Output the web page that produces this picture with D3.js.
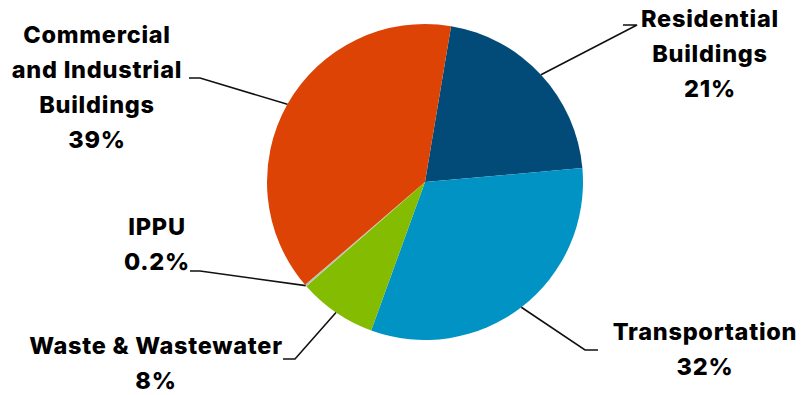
<!DOCTYPE html>
<html><head><meta charset="utf-8">
<script src="https://cdn.jsdelivr.net/npm/d3@7"></script>
<style>body{margin:0;background:#fff}svg{display:block}</style>
</head><body>
<svg id="c" width="801" height="395"></svg>
<script>
const categories = ["Residential Buildings", "Transportation", "Waste & Wastewater", "IPPU", "Commercial and Industrial Buildings"];
const values = [21, 32, 8, 0.2, 39];
const labelLines = [["Residential", "Buildings", "21%"], ["Transportation", "32%"], ["Waste & Wastewater", "8%"], ["IPPU", "0.2%"], ["Commercial", "and Industrial", "Buildings", "39%"]];
const colors = ["#024a78", "#0093c3", "#83bc00", "#b4c8b4", "#dc4305"];

// layout (not data)
const cx = 425, cy = 182, R = 158;
const layout = [
  {tx: 710, ty: 27, elbow: [637, 25], end: [623, 25]},
  {tx: 705, ty: 340, elbow: [585, 350], end: [598, 350]},
  {tx: 156, ty: 354, elbow: [295, 359], end: [283, 359]},
  {tx: 157, ty: 235, elbow: [200, 271], end: [190, 271]},
  {tx: 97, ty: 43, elbow: [200, 78], end: [189, 78]}
];
const lineH = 35;

const svg = d3.select("#c");
const g = svg.append("g").attr("transform", `translate(${cx},${cy})`);
const pie = d3.pie().sort(null).value(d => d).startAngle(9.5 * Math.PI / 180).endAngle(9.5 * Math.PI / 180 + 2 * Math.PI);
const arcs = pie(values);
const arc = d3.arc().innerRadius(0).outerRadius(R);

g.selectAll("path.slice").data(arcs).join("path")
  .attr("class", "slice")
  .attr("d", arc)
  .attr("fill", (d, i) => colors[i]);

// leader lines
arcs.forEach((d, i) => {
  const a = (d.startAngle + d.endAngle) / 2;
  const p0 = [cx + R * Math.sin(a), cy - R * Math.cos(a)];
  const L = layout[i];
  svg.append("polyline")
    .attr("points", [p0, L.elbow, L.end].map(p => p.join(",")).join(" "))
    .attr("fill", "none").attr("stroke", "#111").attr("stroke-width", 1.6);
});

// labels
labelLines.forEach((lines, i) => {
  const L = layout[i];
  const t = svg.append("text")
    .attr("text-anchor", "middle")
    .attr("font-family", "Inter, 'Open Sans', sans-serif")
    .attr("font-weight", 800)
    .attr("font-size", 23.5)
    .attr("letter-spacing", 0.75)
    .attr("fill", "#000");
  lines.forEach((s, j) => {
    t.append("tspan").attr("x", L.tx).attr("y", L.ty + j * lineH).text(s);
  });
});
</script>
</body></html>
